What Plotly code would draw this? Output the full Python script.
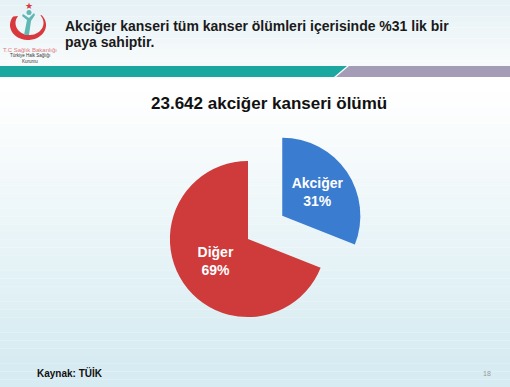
import numpy as np
import plotly.graph_objects as go

W, H = 510, 387

# ---- data ----
categories = ["Akciğer", "Diğer"]
shares = [31, 69]
pulls = [0.53, 0]
slice_colors = ["#3a7cd0", "#cf3a3a"]
slide_title_lines = ["Akciğer kanseri tüm kanser ölümleri içerisinde %31 lik bir", "paya sahiptir."]
chart_title = "23.642 akciğer kanseri ölümü"
source_text = "Kaynak: TÜİK"
page_number = "18"


def px(x, y):
    return x / W, 1 - y / H


shapes = []
# background gradient (white -> light blue)
n = 40
for i in range(n):
    y0 = 77 + (H - 77) * i / n
    y1 = 77 + (H - 77) * (i + 1) / n
    t = min(1.0, max(0.0, (y0 - 90) / (H - 120)))
    r = int(255 + (215 - 255) * t)
    g = int(255 + (236 - 255) * t)
    b = int(255 + (242 - 255) * t)
    shapes.append(dict(type="rect", xref="paper", yref="paper",
                       x0=0, x1=1, y0=1 - y1 / H, y1=1 - y0 / H,
                       fillcolor=f"rgb({r},{g},{b})", line_width=0, layer="below"))
# header background
for i in range(12):
    y0 = 66 * i / 12
    y1 = 66 * (i + 1) / 12
    t = i / 11
    r = int(230 + (248 - 230) * t)
    g = int(242 + (251 - 242) * t)
    b = int(246 + (252 - 246) * t)
    shapes.append(dict(type="rect", xref="paper", yref="paper",
                       x0=0, x1=1, y0=1 - y1 / H, y1=1 - y0 / H,
                       fillcolor=f"rgb({r},{g},{b})", line_width=0, layer="below"))


def path_from(points):
    s = ""
    for k, (x, y) in enumerate(points):
        xx, yy = px(x, y)
        s += ("M" if k == 0 else "L") + f"{xx:.5f},{yy:.5f} "
    return s + "Z"


# teal and purple band
shapes.append(dict(type="path", xref="paper", yref="paper",
                   path=path_from([(0, 66), (347, 66), (334, 77), (0, 77)]),
                   fillcolor="#1aa8a0", line_width=0, layer="below"))
shapes.append(dict(type="path", xref="paper", yref="paper",
                   path=path_from([(349, 66), (W, 66), (W, 77), (336, 77)]),
                   fillcolor="#a59cb8", line_width=0, layer="below"))

# logo crescent
cx, cy = 28, 25
crescent = [(cx + 18 * np.cos(a), cy + 15 * np.sin(a)) for a in np.linspace(np.radians(-40), np.radians(215), 60)]
crescent += [(cx + 1.5 + 14 * np.cos(a), cy - 2 + 12 * np.sin(a)) for a in np.linspace(np.radians(215), np.radians(-40), 60)]
shapes.append(dict(type="path", xref="paper", yref="paper",
                   path=path_from(crescent), fillcolor="#d9393e", line_width=0, layer="above"))
# teal figure
shapes.append(dict(type="path", xref="paper", yref="paper",
                   path=path_from([(24, 35), (27, 20), (22, 16), (23, 14), (29, 18), (34, 13),
                                   (35, 15), (31, 21), (29, 35)]),
                   fillcolor="#5fb8b4", line_width=0, layer="above"))
shapes.append(dict(type="circle", xref="paper", yref="paper",
                   x0=px(26.5, 0)[0], x1=px(31.5, 0)[0], y0=px(0, 15)[1], y1=px(0, 10)[1],
                   fillcolor="#5fb8b4", line_width=0, layer="above"))

fig = go.Figure()
fig.add_trace(go.Pie(
    labels=categories,
    values=shares,
    pull=pulls,
    sort=False,
    direction="clockwise",
    rotation=0,
    marker=dict(colors=slice_colors, line=dict(width=0)),
    texttemplate="<b>%{label}<br>%{percent:.0%}</b>",
    textposition="inside",
    insidetextorientation="horizontal",
    textfont=dict(family="Liberation Sans, Arial", size=14, color="white"),
    domain=dict(x=[128.5 / W, 367.5 / W], y=[1 - 358.5 / H, 1 - 119.5 / H]),
    showlegend=False,
    hoverinfo="label+percent",
))

annotations = [
    dict(text=f"<b>{slide_title_lines[0]}</b>", x=px(63, 0)[0], y=px(0, 26)[1], xanchor="left", yanchor="middle",
         align="left", showarrow=False, font=dict(family="Liberation Sans, Arial", size=14, color="#1a1a1a")),
    dict(text=f"<b>{slide_title_lines[1]}</b>", x=px(63, 0)[0], y=px(0, 42)[1], xanchor="left", yanchor="middle",
         align="left", showarrow=False, font=dict(family="Liberation Sans, Arial", size=14, color="#1a1a1a")),
    dict(text=f"<b>{chart_title}</b>", x=px(269, 0)[0], y=px(0, 104)[1], xanchor="center", yanchor="middle",
         showarrow=False, font=dict(family="Liberation Sans, Arial", size=17, color="#111111")),
    dict(text=f"<b>{source_text}</b>", x=px(35, 0)[0], y=px(0, 373)[1], xanchor="left", yanchor="middle",
         showarrow=False, font=dict(family="Liberation Sans, Arial", size=10, color="#111111")),
    dict(text=page_number, x=px(487, 0)[0], y=px(0, 373)[1], xanchor="center", yanchor="middle",
         showarrow=False, font=dict(family="Liberation Sans, Arial", size=7, color="#999999")),
    dict(text="★", x=px(29, 0)[0], y=px(0, 6)[1], xanchor="center", yanchor="middle",
         showarrow=False, font=dict(family="DejaVu Sans", size=9, color="#d9393e")),
    dict(text="T.C Sağlık Bakanlığı", x=px(30, 0)[0], y=px(0, 50)[1], xanchor="center", yanchor="middle",
         showarrow=False, font=dict(family="Liberation Sans, Arial", size=6, color="#e07a7a")),
    dict(text="Türkiye Halk Sağlığı", x=px(30, 0)[0], y=px(0, 56)[1], xanchor="center", yanchor="middle",
         showarrow=False, font=dict(family="Liberation Sans, Arial", size=4.5, color="#333333")),
    dict(text="Kurumu", x=px(30, 0)[0], y=px(0, 62)[1], xanchor="center", yanchor="middle",
         showarrow=False, font=dict(family="Liberation Sans, Arial", size=4.5, color="#333333")),
]

fig.update_layout(
    width=W, height=H,
    margin=dict(l=0, r=0, t=0, b=0),
    paper_bgcolor="white",
    plot_bgcolor="white",
    shapes=shapes,
    annotations=annotations,
)

fig.write_html("out.html")
